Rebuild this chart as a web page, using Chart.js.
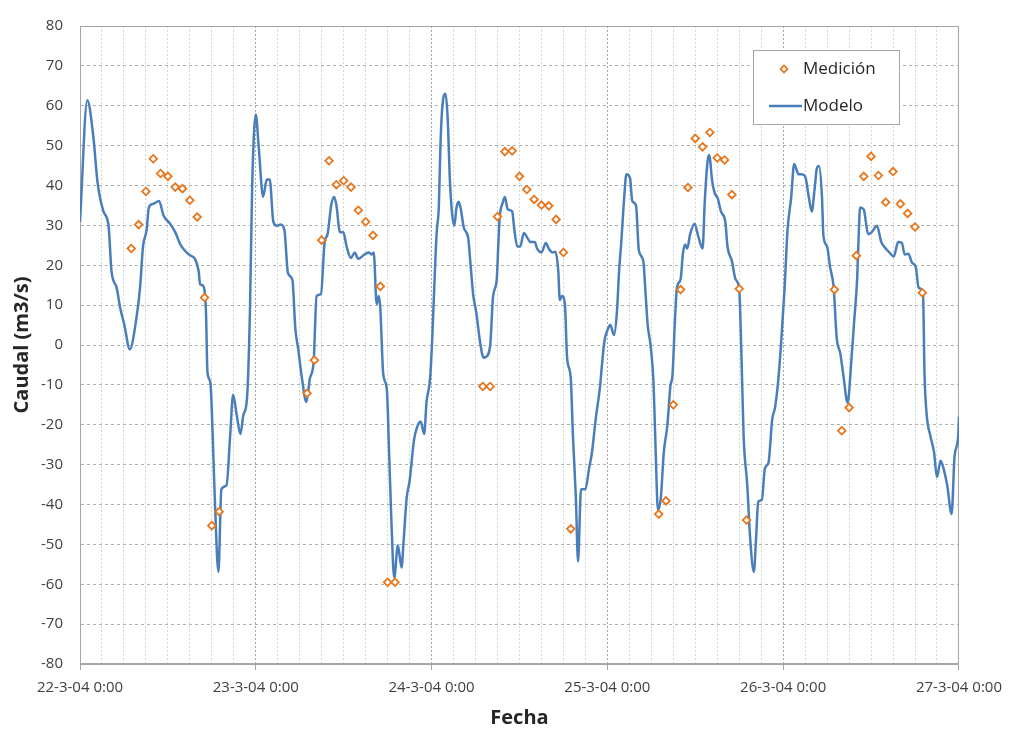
<!DOCTYPE html>
<html>
<head>
<meta charset="utf-8">
<title>Caudal</title>
<script src="https://cdn.jsdelivr.net/npm/chart.js@4.4.1/dist/chart.umd.min.js"></script>
<style>
  html, body { margin: 0; padding: 0; background: #fff; }
  #wrap { width: 1011px; height: 731px; }
</style>
</head>
<body>
<div id="wrap"><canvas id="caudalChart" width="1011" height="731"></canvas></div>
<script>
// hours counted from 22-3-04 0:00
const dayLabels = ['22-3-04 0:00', '23-3-04 0:00', '24-3-04 0:00', '25-3-04 0:00', '26-3-04 0:00', '27-3-04 0:00'];

const measHours = [
    7, 8, 9, 10, 11, 12, 13, 14, 15, 16, 17, 18, 19,
    31, 32, 33, 34, 35, 36, 37, 38, 39, 40, 41, 42, 43,
    55, 56, 57, 58, 59, 60, 61, 62, 63, 64, 65, 66, 67,
    79, 80, 81, 82, 83, 84, 85, 86, 87, 88, 89, 90, 91,
    103, 104, 105, 106, 107, 108, 109, 110, 111, 112, 113, 114, 115
];
const measFlow = [
    24.2, 30.2, 38.5, 46.7, 43.0, 42.3, 39.6, 39.2, 36.3, 32.1, 11.9, -45.3, -41.8,
    -12.1, -3.8, 26.3, 46.2, 40.2, 41.2, 39.6, 33.8, 30.9, 27.5, 14.7, -59.5, -59.5,
    -10.4, -10.4, 32.2, 48.5, 48.7, 42.3, 39.0, 36.5, 35.1, 34.9, 31.5, 23.2, -46.1,
    -42.4, -39.1, -15.0, 13.9, 39.5, 51.8, 49.7, 53.3, 46.9, 46.4, 37.7, 14.1, -43.9,
    13.9, -21.5, -15.7, 22.4, 42.3, 47.3, 42.5, 35.8, 43.5, 35.4, 33.0, 29.6, 13.1
];

const modelHours = [
    0, 1.0, 1.8, 2.4, 3.2, 3.9, 4.3, 5.0, 5.5, 6.05, 6.8, 7.7, 8.2, 8.6, 9.1, 9.4, 10.0, 10.8, 11.4, 12.3,
    13.0, 13.7, 14.3, 15.0, 15.7, 16.2, 16.4, 16.8, 17.2, 17.4, 17.8, 18.1, 18.4, 18.9, 19.3, 20.0, 20.5, 20.9, 21.4, 21.9,
    22.3, 22.8, 23.2, 23.5, 24.0, 24.4, 25.0, 25.5, 25.9, 26.4, 26.9, 27.4, 27.9, 28.4, 29.0, 29.4, 29.8, 30.3, 30.9, 31.4,
    31.9, 32.3, 32.9, 33.4, 33.8, 34.3, 34.7, 35.0, 35.5, 35.95, 36.4, 37.0, 37.5, 38.0, 38.7, 39.4, 39.8, 40.1, 40.5, 40.8,
    41.0, 41.4, 41.9, 42.2, 42.5, 42.9, 43.4, 43.9, 44.2, 44.6, 45.0, 45.6, 46.0, 46.5, 47.0, 47.3, 47.8, 48.1, 48.5, 48.7,
    49.0, 49.2, 49.5, 49.9, 50.2, 50.5, 50.8, 51.1, 51.4, 51.7, 52.0, 52.4, 53.0, 53.3, 53.7, 54.1, 54.6, 55.1, 55.4, 56.0,
    56.4, 56.9, 57.1, 57.3, 57.7, 58.0, 58.4, 59.0, 59.3, 59.7, 60.1, 60.6, 61.1, 61.5, 62.1, 62.4, 63.0, 63.6, 64.0, 64.5,
    64.9, 65.3, 65.5, 65.8, 66.2, 66.5, 67.0, 67.3, 67.7, 68.0, 68.4, 69.0, 69.5, 69.9, 70.4, 71.0, 71.3, 71.6, 72.1, 72.4,
    72.9, 73.3, 73.6, 73.9, 74.3, 74.6, 75.1, 75.4, 75.9, 76.3, 76.9, 77.2, 77.5, 77.9, 78.3, 78.6, 78.9, 79.3, 79.7, 80.2,
    80.6, 80.9, 81.2, 81.5, 82.0, 82.3, 82.6, 82.9, 83.3, 83.9, 84.4, 85.0, 85.3, 85.7, 85.9, 86.3, 86.6, 87.1, 87.5, 88.1,
    88.4, 89.0, 89.5, 90.0, 90.3, 90.6, 91.1, 91.5, 92.0, 92.3, 92.6, 93.1, 93.5, 94.0, 94.5, 94.9, 95.3, 95.7, 96.2, 96.6,
    97.1, 97.5, 98.1, 98.5, 99.0, 99.5, 99.9, 100.3, 100.6, 100.9, 101.3, 101.5, 102.0, 102.4, 102.9, 103.3, 103.8, 104.2, 104.8, 105.3,
    105.7, 106.1, 106.3, 106.5, 107.0, 107.6, 108.1, 108.8, 109.4, 110.0, 110.5, 111.1, 111.7, 112.2, 112.6, 113.1, 113.6, 114.1, 114.5, 115.1,
    115.3, 115.6, 116.1, 116.6, 117.0, 117.5, 117.9, 118.4, 119.0, 119.4, 119.9, 120.0
];
const modelFlow = [
    30.9, 61.4, 52.6, 40.7, 33.5, 29.9, 18.5, 14.4, 9.2, 5.1, -1.1, 6.7, 14.4, 24.7, 28.9, 34.5, 35.4, 36.1, 32.5, 30.4,
    28.3, 25.2, 23.7, 22.5, 21.6, 18.5, 15.2, 14.9, 8.2, -6.8, -9.4, -21.8, -38.3, -56.9, -36.2, -35.2, -22.8, -12.5, -17.6, -22.3,
    -17.6, -13.4, 8.3, 39.3, 57.8, 49.6, 37.2, 41.5, 41.5, 30.9, 29.9, 30.2, 28.9, 18.0, 16.3, 4.1, -1.1, -8.3, -14.3, -8.3,
    -4.2, 12.3, 12.8, 25.8, 27.8, 35.1, 37.1, 35.1, 28.3, 28.3, 24.7, 21.8, 23.2, 21.6, 22.5, 23.2, 22.7, 23.2, 10.3, 12.3,
    9.2, -7.3, -11.4, -26.9, -43.4, -58.4, -50.2, -55.8, -48.6, -38.3, -34.1, -23.8, -20.7, -19.2, -22.3, -14.5, -8.3, 2.0, 20.6, 28.3,
    35.1, 49.5, 60.4, 63.0, 56.8, 41.3, 33.0, 29.9, 34.5, 35.9, 34.0, 29.4, 26.8, 20.6, 12.3, 8.2, 1.0, -3.2, -3.0, -0.1,
    12.3, 16.5, 24.7, 32.0, 35.6, 37.1, 34.0, 33.5, 28.9, 24.7, 24.7, 28.1, 26.8, 25.8, 25.8, 24.2, 23.2, 25.6, 24.2, 23.2,
    23.4, 18.5, 11.3, 12.3, 10.3, -3.2, -8.3, -22.8, -38.3, -54.3, -36.2, -36.2, -31.0, -26.9, -18.7, -10.4, -4.2, 1.0, 4.1, 5.1,
    2.5, 8.2, 18.5, 25.8, 37.1, 42.8, 41.8, 36.1, 35.1, 23.7, 21.1, 13.4, 5.1, -0.1, -9.4, -27.0, -41.4, -38.3, -27.0, -20.0,
    -10.4, -7.3, 5.1, 14.4, 16.5, 22.7, 25.2, 24.2, 27.8, 30.4, 27.3, 24.2, 36.1, 46.4, 47.6, 41.3, 38.4, 36.6, 33.5, 30.9,
    24.7, 21.1, 16.5, 13.9, -2.1, -22.8, -35.2, -48.6, -56.9, -48.6, -39.3, -38.8, -31.0, -29.5, -18.7, -15.6, -9.4, -0.1, 14.4, 28.9,
    37.1, 45.4, 42.8, 42.8, 42.3, 37.1, 33.5, 39.2, 44.3, 44.9, 37.1, 27.3, 24.7, 19.6, 14.4, 2.0, -2.1, -7.3, -14.5, -4.2,
    6.1, 16.5, 26.8, 34.5, 34.0, 27.8, 28.3, 29.9, 25.8, 24.2, 23.2, 22.2, 25.8, 25.6, 22.7, 22.9, 20.6, 19.6, 14.4, 12.3,
    -7.3, -17.6, -22.8, -26.9, -33.1, -29.0, -31.0, -35.2, -42.4, -27.9, -22.8, -18.0
];

const toPoints = (xs, ys) => xs.map((x, i) => ({ x: x, y: ys[i] }));

const isDay = v => v % 24 === 0;

// plot frame (top and right sides are not drawn by the axes)
const plotFrame = {
    id: 'plotFrame',
    beforeDatasetsDraw(chart) {
        const { ctx, chartArea: a } = chart;
        ctx.save();
        ctx.strokeStyle = '#a6a6a6';
        ctx.lineWidth = 1;
        ctx.strokeRect(a.left + 0.5, a.top + 0.5, a.right - a.left - 1, a.bottom - a.top - 1);
        ctx.restore();
    }
};

// legend box drawn inside the plot area
const insideLegend = {
    id: 'insideLegend',
    afterDraw(chart) {
        const { ctx } = chart;
        const sets = chart.data.datasets;
        const x = 753, y = 50, w = 146, h = 74;
        ctx.save();
        ctx.fillStyle = '#ffffff';
        ctx.fillRect(x, y, w, h);
        ctx.strokeStyle = '#a6a6a6';
        ctx.lineWidth = 1;
        ctx.strokeRect(x + 0.5, y + 0.5, w, h);

        ctx.font = '17px "Open Sans"';
        ctx.fillStyle = '#262626';
        ctx.textBaseline = 'middle';

        // Medición: marker
        ctx.save();
        ctx.translate(784, 69);
        ctx.rotate(Math.PI / 4);
        ctx.fillStyle = '#ffffff';
        ctx.strokeStyle = sets[0].borderColor;
        ctx.lineWidth = 1.7;
        ctx.fillRect(-2.5, -2.5, 5, 5);
        ctx.strokeRect(-2.5, -2.5, 5, 5);
        ctx.restore();
        ctx.fillText(sets[0].label, 803, 69);

        // Modelo: line sample
        ctx.strokeStyle = sets[1].borderColor;
        ctx.lineWidth = 2.5;
        ctx.beginPath();
        ctx.moveTo(769, 106);
        ctx.lineTo(802, 106);
        ctx.stroke();
        ctx.fillText(sets[1].label, 803, 106);
        ctx.restore();
    }
};

const ctx = document.getElementById('caudalChart').getContext('2d');
new Chart(ctx, {
    type: 'line',
    data: {
        datasets: [
            {
                label: 'Medición',
                data: toPoints(measHours, measFlow),
                showLine: false,
                pointStyle: 'rectRot',
                pointRadius: 3.8,
                pointBorderWidth: 1.8,
                borderColor: '#e8761c',
                backgroundColor: '#ffffff',
                pointBackgroundColor: '#ffffff',
                pointBorderColor: '#e8761c'
            },
            {
                label: 'Modelo',
                data: toPoints(modelHours, modelFlow),
                borderColor: '#4a7ebb',
                backgroundColor: '#4a7ebb',
                borderWidth: 2.5,
                pointRadius: 0,
                cubicInterpolationMode: 'monotone'
            }
        ]
    },
    options: {
        responsive: false,
        animation: false,
        devicePixelRatio: 1,
        layout: { padding: { top: 17, right: 52, left: 0, bottom: 0 } },
        plugins: {
            legend: { display: false },
            tooltip: { enabled: false }
        },
        scales: {
            x: {
                type: 'linear',
                min: 0,
                max: 120,
                afterFit: s => { s.height = 67; },
                ticks: {
                    stepSize: 3,
                    autoSkip: false,
                    maxRotation: 0,
                    minRotation: 0,
                    padding: 9,
                    color: '#404040',
                    font: { family: 'Open Sans', size: 15 },
                    callback: v => isDay(v) ? dayLabels[v / 24] : ''
                },
                grid: {
                    color: c => (c.tick && isDay(c.tick.value)) ? '#a6a6a6' : '#d6d6d6',
                    tickColor: c => (c.tick && isDay(c.tick.value)) ? '#a6a6a6' : 'rgba(0,0,0,0)',
                    tickLength: 6,
                    lineWidth: 1
                },
                border: { display: true, color: '#a6a6a6', dash: [2, 2] },
                title: {
                    display: true,
                    text: 'Fecha',
                    color: '#262626',
                    font: { family: 'Open Sans', size: 20, weight: 'bold' },
                    padding: { top: 0, bottom: 1 }
                }
            },
            y: {
                min: -80,
                max: 80,
                afterFit: s => { s.width = 80; },
                ticks: {
                    stepSize: 10,
                    padding: 17,
                    color: '#404040',
                    font: { family: 'Open Sans', size: 15 }
                },
                grid: {
                    color: '#b0b0b0',
                    drawTicks: false,
                    lineWidth: 1
                },
                border: { display: true, color: '#a6a6a6', dash: [3, 3] },
                title: {
                    display: true,
                    text: 'Caudal (m3/s)',
                    color: '#262626',
                    font: { family: 'Open Sans', size: 20, weight: 'bold' },
                    padding: { top: 10, bottom: 0 }
                }
            }
        }
    },
    plugins: [plotFrame, insideLegend]
});
</script>
</body>
</html>
